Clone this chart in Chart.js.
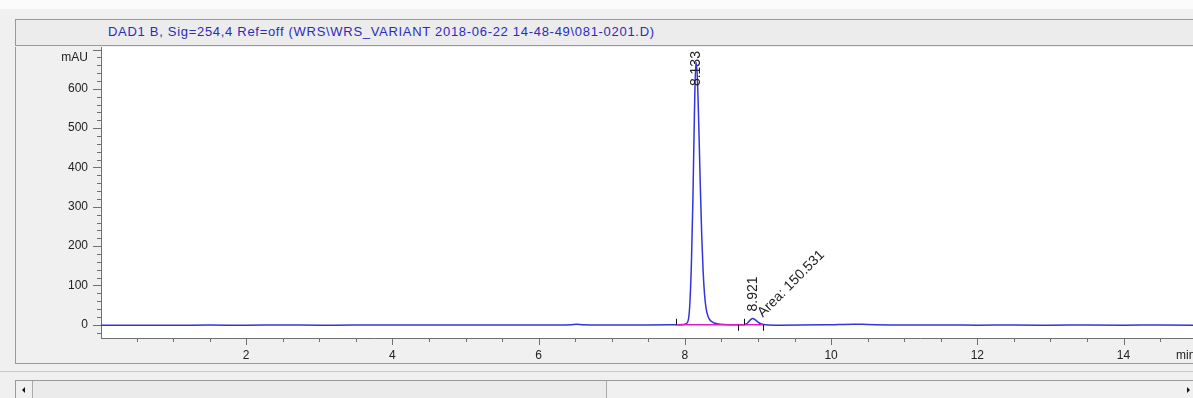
<!DOCTYPE html>
<html>
<head>
<meta charset="utf-8">
<script src="https://cdn.jsdelivr.net/npm/chart.js@4.4.1/dist/chart.umd.min.js"></script>
<style>
  body {
    margin: 0;
    width: 1193px;
    height: 398px;
    overflow: hidden;
    position: relative;
    background: #f0f0f0;
    font-family: Arial, "Liberation Sans", sans-serif;
  }
  #topStrip { position: absolute; left: 0; top: 0; width: 1193px; height: 9px; background: #fbfbfb; }
  #titleBox {
    position: absolute; left: 15px; top: 19px; width: 1190px; height: 25px;
    border-top: 1px solid #999; border-left: 1px solid #999; border-bottom: 1px solid #999;
    background: #ececec;
  }
  #titleText {
    position: absolute; left: 92px; top: 4px;
    font-size: 13px; letter-spacing: 0.7px; color: #2b2bbd; white-space: nowrap;
  }
  #frame {
    position: absolute; left: 15px; top: 47px; width: 1190px; height: 316px;
    border-left: 1px solid #999; border-bottom: 1px solid #999;
  }
  #chartWrap { position: absolute; left: 16px; top: 47px; width: 1177px; height: 316px; }
  #sep { position: absolute; left: 0; top: 371px; width: 1193px; height: 1px; background: #c8c8c8; }
  #scroll {
    position: absolute; left: 15px; top: 380px; width: 1190px; height: 18px;
    border-top: 1px solid #999; border-left: 1px solid #999; background: #f0f0f0;
  }
  #btnLeft { position: absolute; left: 0; top: 0; width: 16px; height: 18px; border-right: 1px solid #aaa; }
  #thumb { position: absolute; left: 17px; top: 0; width: 573px; height: 18px; border-right: 1px solid #aaa; background: #ebebeb; }
  .triL { position: absolute; left: 6px; top: 6px; width: 0; height: 0;
    border-top: 3px solid transparent; border-bottom: 3px solid transparent; border-right: 3px solid #111; }
  .triR { position: absolute; left: 1171px; top: 6px; width: 0; height: 0;
    border-top: 3px solid transparent; border-bottom: 3px solid transparent; border-left: 3px solid #111; }
</style>
</head>
<body>
<div id="topStrip"></div>
<div id="titleBox"><div id="titleText">DAD1 B, Sig=254,4 Ref=off (WRS\WRS_VARIANT 2018-06-22 14-48-49\081-0201.D)</div></div>
<div id="frame"></div>
<div id="chartWrap"><canvas id="chromChart"></canvas></div>
<div id="sep"></div>
<div id="scroll">
  <div id="btnLeft"><div class="triL"></div></div>
  <div id="thumb"></div>
  <div class="triR"></div>
</div>
<script>
// retention time (min) and detector signal (mAU)
const timeMin = [
  0.0, 0.5, 1.0, 1.5, 2.0, 2.5, 3.0, 3.5, 4.0, 4.5,
  5.0, 5.5, 6.0, 6.3, 6.45, 6.52, 6.6, 6.8, 7.0, 7.5,
  7.8, 7.9, 7.98, 8.02, 8.05, 8.07, 8.09, 8.11, 8.13, 8.15,
  8.17, 8.19, 8.21, 8.23, 8.25, 8.27, 8.29, 8.32, 8.36, 8.41,
  8.46, 8.53, 8.6, 8.7, 8.8, 8.84, 8.87, 8.9, 8.93, 8.96,
  9.0, 9.04, 9.08, 9.15, 9.3, 9.6, 9.9, 10.1, 10.3, 10.5,
  10.8, 11.2, 11.6, 12.0, 12.5, 13.0, 13.5, 14.0, 14.5, 15.0
];
const signalMAU = [
  -1, -1, -1, -0.8, -1, -0.7, -0.9, -0.8, -0.6, -0.8,
  -0.7, -0.6, -0.5, -0.5, 0.3, 1.2, 0, -0.5, -0.6, -0.4,
  -0.2, 0, 0.5, 3, 15, 60, 160, 320, 530, 668,
  630, 510, 360, 230, 135, 75, 42, 20, 9, 4,
  2, 0.8, 0.3, 0, 0.2, 2, 7, 13, 16, 13,
  7, 2.5, 0.5, -0.5, -1, -0.8, -0.2, 0.6, 1.5, 0.8,
  -0.3, -0.8, -0.8, -0.9, -0.8, -0.9, -0.8, -0.9, -0.8, -0.9
];

// integration results
const peakRT = ['8.133', '8.921'];
const peakApexTime = [8.15, 8.93];
const peakApexMAU = [668, 16];
const peakStart = [7.875, 8.81];
const peakEnd = [8.73, 9.07];
const areaNote = 'Area: 150.531';

const xTicks = [2, 4, 6, 8, 10, 12, 14];
const yTicks = [0, 100, 200, 300, 400, 500, 600];
const yUnitAt = 680;

const blue = 'rgb(52, 52, 222)';
const magenta = '#e01cc8';
const axisGray = '#707070';
const labelFont = { family: 'Arial, "Liberation Sans", sans-serif', size: 12 };

const decor = {
  id: 'decor',
  beforeDraw(chart) {
    const { ctx, chartArea: a } = chart;
    ctx.save();
    ctx.fillStyle = '#ffffff';
    ctx.fillRect(a.left, a.top, a.right - a.left, a.bottom - a.top);
    ctx.restore();
  },
  afterDraw(chart) {
    const { ctx, chartArea: a, scales: { x, y } } = chart;
    ctx.save();
    ctx.lineWidth = 1;
    ctx.strokeStyle = axisGray;
    ctx.beginPath();
    // y ticks, minor every 20
    for (let v = -20; v <= 700; v += 20) {
      const py = Math.round(y.getPixelForValue(v)) + 0.5;
      const len = v % 100 === 0 ? 8 : 4;
      ctx.moveTo(a.left - len, py);
      ctx.lineTo(a.left, py);
    }
    // x ticks, minor every 0.5
    for (let t = 0.5; t < 15; t += 0.5) {
      const px = Math.round(x.getPixelForValue(t)) + 0.5;
      const len = t % 2 === 0 ? 7 : 4;
      ctx.moveTo(px, a.bottom);
      ctx.lineTo(px, a.bottom + len);
    }
    ctx.stroke();

    // integration start/end markers
    ctx.save();
    ctx.beginPath();
    ctx.rect(a.left, a.top, a.right - a.left, a.bottom - a.top);
    ctx.clip();
    ctx.strokeStyle = '#111';
    ctx.beginPath();
    const y0 = y.getPixelForValue(0);
    peakStart.forEach(t => {
      const px = Math.round(x.getPixelForValue(t)) + 0.5;
      ctx.moveTo(px, y0);
      ctx.lineTo(px, y0 - 6);
    });
    peakEnd.forEach(t => {
      const px = Math.round(x.getPixelForValue(t)) + 0.5;
      ctx.moveTo(px, y0);
      ctx.lineTo(px, y0 + 6);
    });
    ctx.stroke();

    // retention time labels
    ctx.fillStyle = '#222';
    ctx.font = '14px Arial, "Liberation Sans", sans-serif';
    ctx.textBaseline = 'middle';
    ctx.textAlign = 'left';
    peakRT.forEach((label, i) => {
      const px = x.getPixelForValue(peakApexTime[i]);
      const py = y.getPixelForValue(peakApexMAU[i]) + (i === 0 ? 24 : -7);
      ctx.save();
      ctx.translate(px, py);
      ctx.rotate(-Math.PI / 2);
      ctx.fillText(label, 0, 0);
      ctx.restore();
    });
    ctx.save();
    ctx.translate(x.getPixelForValue(peakApexTime[1]) + 10, y0 - 7);
    ctx.rotate(-Math.PI / 4);
    ctx.textBaseline = 'alphabetic';
    ctx.fillText(areaNote, 0, 0);
    ctx.restore();
    ctx.restore();

    // x unit
    ctx.fillStyle = '#222';
    ctx.font = '12px Arial, "Liberation Sans", sans-serif';
    ctx.textBaseline = 'middle';
    ctx.fillText('min', a.right - 17, a.bottom + 18);
    ctx.restore();
  }
};

const ctx = document.getElementById('chromChart').getContext('2d');
new Chart(ctx, {
  type: 'line',
  data: {
    datasets: [
      {
        label: 'baseline',
        data: [{ x: peakStart[0], y: 0 }, { x: peakEnd[1], y: 0 }],
        borderColor: magenta,
        borderWidth: 1.5,
        pointRadius: 0,
        order: 0,
      },
      {
        label: 'DAD1 B',
        data: timeMin.map((t, i) => ({ x: t, y: signalMAU[i] })),
        borderColor: blue,
        borderWidth: 1.5,
        pointRadius: 0,
        cubicInterpolationMode: 'monotone',
        order: 1,
      },
    ],
  },
  options: {
    responsive: true,
    maintainAspectRatio: false,
    animation: false,
    layout: { padding: 0 },
    plugins: {
      legend: { display: false },
      tooltip: { enabled: false },
    },
    scales: {
      x: {
        type: 'linear',
        min: 0.014,
        max: 14.95,
        afterBuildTicks(scale) { scale.ticks = xTicks.map(v => ({ value: v })); },
        afterFit(scale) {
          scale.height = 25;
          scale.paddingLeft = 0;
          scale.paddingRight = 0;
        },
        grid: { display: false, drawTicks: false },
        border: { display: true, color: axisGray, width: 1 },
        ticks: {
          autoSkip: false,
          maxRotation: 0,
          padding: 10,
          color: '#222',
          font: labelFont,
        },
      },
      y: {
        type: 'linear',
        min: -33.6,
        max: 706.4,
        afterBuildTicks(scale) {
          scale.ticks = yTicks.concat([yUnitAt]).map(v => ({ value: v }));
        },
        afterFit(scale) {
          scale.width = 85;
          scale.paddingTop = 0;
          scale.paddingBottom = 0;
        },
        grid: { display: false, drawTicks: false },
        border: { display: true, color: axisGray, width: 1 },
        ticks: {
          autoSkip: false,
          padding: 13,
          color: '#222',
          font: labelFont,
          callback: (v) => (v === yUnitAt ? 'mAU' : String(v)),
        },
      },
    },
  },
  plugins: [decor],
});
</script>
</body>
</html>
